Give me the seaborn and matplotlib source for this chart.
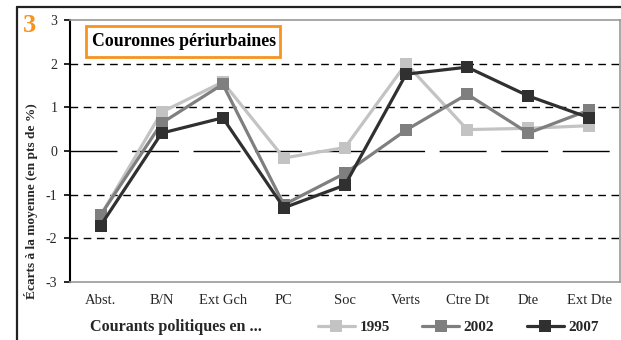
import matplotlib
matplotlib.use("Agg")
import matplotlib.pyplot as plt
from matplotlib.lines import Line2D
from matplotlib.patches import Rectangle
import seaborn as sns
import pandas as pd

categories = ["Abst.", "B/N", "Ext Gch", "PC", "Soc", "Verts", "Ctre Dt", "Dte", "Ext Dte"]
years = ["1995", "2002", "2007"]
values_1995 = [-1.48, 0.89, 1.58, -0.16, 0.08, 2.00, 0.49, 0.52, 0.58]
values_2002 = [-1.47, 0.64, 1.53, -1.23, -0.51, 0.48, 1.30, 0.41, 0.94]
values_2007 = [-1.71, 0.41, 0.76, -1.30, -0.78, 1.76, 1.92, 1.26, 0.76]
yticks = [-3, -2, -1, 0, 1, 2, 3]
colors = ["#c3c3c3", "#7f7f7f", "#303030"]

df = pd.DataFrame({
    "courant": categories * 3,
    "annee": [y for y in years for _ in categories],
    "ecart": values_1995 + values_2002 + values_2007,
})

sns.set_theme(style="white")
plt.rcParams["font.family"] = ["Liberation Serif", "DejaVu Serif"]

W, H = 621, 340
fig = plt.figure(figsize=(W / 100, H / 100), dpi=100)
ax = fig.add_axes([70 / W, 1 - 282 / H, (620 - 70) / W, (282 - 20) / H])

# reference lines
for yv in [-2, -1, 1, 2]:
    ax.axhline(yv, color="black", lw=1.0, dashes=(5.5, 4.0), zorder=1)
ax.axhline(0, color="black", lw=1.0, dashes=(33.8, 10.5), dash_capstyle="butt", zorder=1)

sns.lineplot(data=df, x="courant", y="ecart", hue="annee", palette=colors,
             marker="s", markersize=8, markeredgewidth=0, linewidth=2.3,
             sort=False, ax=ax, legend=False, zorder=3)

ax.set_xlim(-0.5, len(categories) - 0.5)
ax.set_ylim(-3, 3)
ax.set_yticks(yticks)
ax.set_yticklabels([str(t) for t in yticks], fontsize=10)
ax.set_xticks(range(len(categories)))
ax.set_xticklabels(categories, fontsize=10.5)
ax.tick_params(axis="x", length=0, pad=9)
ax.tick_params(axis="y", length=4, width=1.2, color="black", direction="out", left=True, pad=5)
ax.set_xlabel("")
ax.set_ylabel("")

for side in ["top", "right", "bottom"]:
    ax.spines[side].set_color("#9a9a9a")
    ax.spines[side].set_linewidth(1.2)
ax.spines["left"].set_color("black")
ax.spines["left"].set_linewidth(1.5)

# outer frame (top and left edges)
fig.add_artist(Line2D([17 / W, 1.0], [1 - 7 / H, 1 - 7 / H], color="#222222", lw=1.6,
                      transform=fig.transFigure))
fig.add_artist(Line2D([17 / W, 17 / W], [1 - 7 / H, 0.0], color="#222222", lw=1.6,
                      transform=fig.transFigure))

# panel number
fig.text(23 / W, 1 - 25 / H, "3", color="#f7931e", fontsize=19, fontweight="bold",
         ha="left", va="center")

# title box
fig.add_artist(Rectangle((86 / W, 1 - 57 / H), (280 - 86) / W, (57 - 26) / H,
                         transform=fig.transFigure, fill=False, edgecolor="#f7931e", lw=2))
fig.text(184 / W, 1 - 42 / H, "Couronnes périurbaines", fontsize=12.8, fontweight="bold",
         ha="center", va="center", color="black")

# axis titles
fig.text(31 / W, 1 - 201 / H, "Écarts à la moyenne (en pts de %)", rotation=90,
         fontsize=9.6, fontweight="bold", ha="center", va="center")
fig.text(176 / W, 1 - 327 / H, "Courants politiques en ...", fontsize=11.6, fontweight="bold",
         ha="center", va="center")

# legend
handles = [Line2D([], [], color=c, lw=2.3, marker="s", markersize=8, markeredgewidth=0)
           for c in colors]
leg = fig.legend(handles, years, loc="center left", bbox_to_anchor=(318 / W, 1 - 327 / H),
                 ncol=3, frameon=False, handlelength=2.4, handletextpad=0.3,
                 columnspacing=2.15, borderpad=0, borderaxespad=0,
                 prop={"weight": "bold", "size": 11})

fig.savefig("out.png", dpi=100)
